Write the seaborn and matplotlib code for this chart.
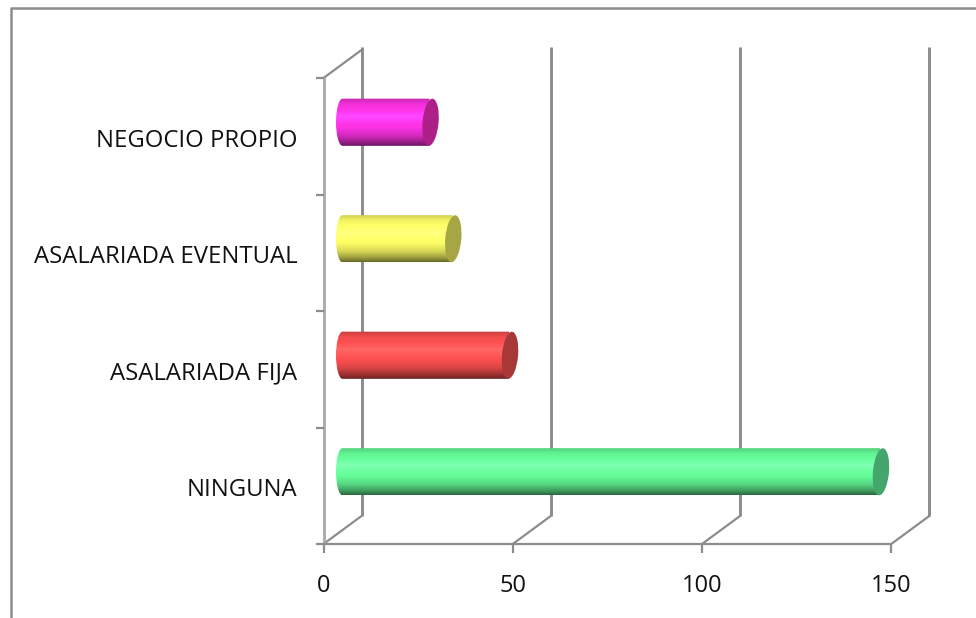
import numpy as np
import matplotlib
matplotlib.use("Agg")
import matplotlib.pyplot as plt
from matplotlib.patches import Ellipse, PathPatch
from matplotlib.path import Path
from matplotlib.transforms import ScaledTranslation, IdentityTransform
import seaborn as sns

categories = ["NEGOCIO PROPIO", "ASALARIADA EVENTUAL", "ASALARIADA FIJA", "NINGUNA"]
values = [23, 29, 44, 142]
bar_colors = ["#FF33E6", "#FFFF66", "#FF5050", "#66FF99"]
cap_colors = ["#AD2088", "#A6A644", "#A83838", "#44A66C"]
x_ticks = [0, 50, 100, 150]

W, H = 976, 618
DPI = 100
GRID = "#8C8C8C"
sns.set_theme(style="white")
plt.rcParams["font.family"] = ["Open Sans", "DejaVu Sans"]

fig = plt.figure(figsize=(W / DPI, H / DPI), dpi=DPI)
# axes = middle plane of the 3-D box
px_per_unit = 3.785
x0, ytop, ybot = 342.5, 64.0, 530.0
xmax = 150
ax = fig.add_axes([x0 / W, 1 - ybot / H, xmax * px_per_unit / W, (ybot - ytop) / H])
sns.barplot(x=values, y=categories, hue=categories, palette=bar_colors, legend=False,
            orient="y", width=0.405, ax=ax, saturation=1, zorder=3)
ax.set_xlim(0, xmax)
ax.set_ylim(3.5, -0.5)
ax.set_xlabel("")
ax.set_ylabel("")
ax.patch.set_alpha(0)
sns.despine(ax=ax, left=True, bottom=True)
ax.set_xticks([])
ax.set_yticks([])


def shifted(dx, dy):
    """Data transform moved by dx, dy screen pixels (dy positive = up)."""
    return ax.transData + ScaledTranslation(dx / DPI, dy / DPI, fig.dpi_scale_trans)


front = shifted(-19, -14)
back = shifted(19, 14)
lw = 1.6
screen = IdentityTransform()

# back wall gridlines, floor diagonals, ticks and value labels
for t in x_ticks:
    bx0, by0 = back.transform((t, 3.5))
    ax.plot([bx0, bx0], [by0, H - 47], transform=screen, color=GRID, lw=lw + 0.5,
            clip_on=False, zorder=1, solid_capstyle="butt")
    fx, fy = front.transform((t, 3.5))
    ax.plot([fx, bx0], [fy, by0], transform=screen, color=GRID, lw=lw,
            clip_on=False, zorder=1)
    ax.plot([fx, fx], [fy, fy - 9], transform=screen, color=GRID, lw=lw,
            clip_on=False, zorder=1, solid_capstyle="butt")
    ax.text(fx, fy - 42, str(t), transform=screen, ha="center", va="center",
            fontsize=17, color="#111111", clip_on=False)

# side wall top diagonal
p0, p1 = front.transform((0, -0.5)), back.transform((0, -0.5))
ax.plot([p0[0], p1[0]], [p0[1], p1[1]], transform=screen, color=GRID, lw=lw,
        clip_on=False, zorder=1)
# front axis lines
ax.plot([0, 0], [3.5, -0.5], transform=front, color="#A8A8A8", lw=lw + 0.4,
        clip_on=False, zorder=1)
ax.plot([0, 150], [3.5, 3.5], transform=front, color=GRID, lw=lw, clip_on=False, zorder=1)
for yb in np.arange(-0.5, 4.0, 1.0):
    fx, fy = front.transform((0, yb))
    ax.plot([fx - 8, fx], [fy, fy], transform=screen, color=GRID, lw=lw,
            clip_on=False, zorder=1, solid_capstyle="butt")

# category labels
for i, c in enumerate(categories):
    fx, fy = front.transform((0, i))
    ax.text(fx - 26, fy - 1.5 - 3, c, transform=screen, ha="right", va="center",
            fontsize=17.2, color="#111111", clip_on=False)

# cylinder shading over the seaborn bars
stops = np.array([0, .04, .12, .38, .62, .78, .92, 1])
mult = np.array([.80, .84, .95, 1.06, .98, .84, .60, .42])
for patch, col, cap in zip(ax.patches, bar_colors, cap_colors):
    x1 = patch.get_x() + patch.get_width()
    yc = patch.get_y() + patch.get_height() / 2
    h = patch.get_height()
    rgb = np.array(matplotlib.colors.to_rgb(col))
    t = np.linspace(0, 1, 64)
    m = np.interp(t, stops, mult)
    base = np.clip(rgb[None, :] * m[:, None], 0, 1)
    base = np.clip(base + np.clip(m - 1, 0, None)[:, None] * 1.2, 0, 1)
    grad = base[:, None, :]
    (xl, ya), (xr, yb_) = ax.transData.transform([(0, yc - h / 2), (x1, yc + h / 2)])
    rx = 6.5
    mid = (ya + yb_) / 2
    half = (ya - yb_) / 2
    k = 0.5523
    verts = [(xl, ya), (xr, ya), (xr, yb_), (xl, yb_),
             (xl - rx * k, yb_), (xl - rx, mid - half * k), (xl - rx, mid),
             (xl - rx, mid + half * k), (xl - rx * k, ya), (xl, ya)]
    codes = [Path.MOVETO, Path.LINETO, Path.LINETO, Path.LINETO,
             Path.CURVE4, Path.CURVE4, Path.CURVE4, Path.CURVE4, Path.CURVE4, Path.CURVE4]
    clip = PathPatch(Path(verts, codes), transform=screen, fc="none", ec="none")
    ax.add_patch(clip)
    im = ax.imshow(grad, extent=(-3, x1 + 1, yc + h / 2, yc - h / 2), aspect="auto",
                   zorder=3.5, interpolation="bilinear")
    im.set_clip_box(fig.bbox)
    im.set_clip_path(clip)
    patch.set_visible(False)
    ell = Ellipse((xr + 1, mid), width=16, height=(ya - yb_), angle=-5,
                  transform=screen, fc=cap, ec="none", zorder=4, clip_on=False)
    ax.add_patch(ell)

ax.set_xlim(0, xmax)
ax.set_ylim(3.5, -0.5)

# outer picture frame (left and top only)
fig.add_artist(plt.Line2D([10.5 / W, 10.5 / W, 1], [0, 1 - 8 / H, 1 - 8 / H], color=GRID, lw=1.8))

fig.savefig("out.png", dpi=DPI, facecolor="white")
